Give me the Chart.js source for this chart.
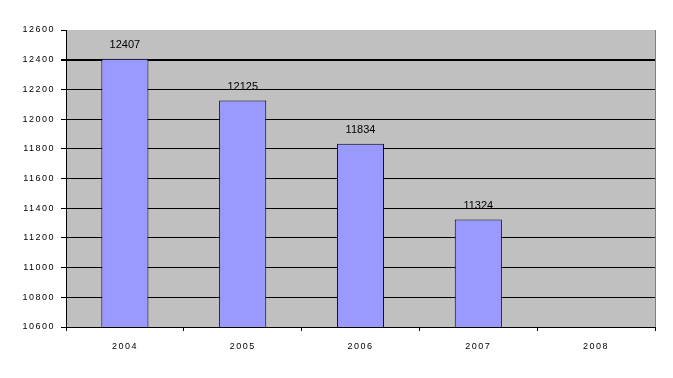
<!DOCTYPE html>
<html>
<head>
<meta charset="utf-8">
<script src="https://cdn.jsdelivr.net/npm/chart.js@4"></script>
<style>
  html, body { margin: 0; padding: 0; background: #fff; }
  #wrap { width: 673px; height: 378px; }
</style>
</head>
<body>
<div id="wrap"><canvas id="chartCanvasId" width="673" height="378"></canvas></div>
<script>
"use strict";

// chart values
const years  = ["2004", "2005", "2006", "2007", "2008"]
const counts = [12407, 12125, 11834, 11324, null]
const yMin   = 10600
const yMax   = 12600
const yStep  = 200

// grey plot area, right border, value labels over the bars
const plotDecor = {
    id: "plotDecor",
    beforeDraw(chart) {
        const a = chart.chartArea
        const ctx = chart.ctx
        ctx.save()
        ctx.fillStyle = "#C0C0C0"
        ctx.fillRect(a.left, a.top, a.right - a.left, a.bottom - a.top)
        ctx.restore()
        // the old axis font is wide and loose
        ctx.letterSpacing = "1.5px"
    },
    afterDraw(chart) {
        const a = chart.chartArea
        const ctx = chart.ctx
        ctx.letterSpacing = "0px"
        ctx.save()
        ctx.strokeStyle = "#808080"
        ctx.lineWidth = 1
        ctx.beginPath()
        ctx.moveTo(Math.round(a.right) + 0.5, a.top)
        ctx.lineTo(Math.round(a.right) + 0.5, a.bottom)
        ctx.stroke()

        ctx.fillStyle = "#000"
        ctx.font = "11px 'Liberation Sans', Arial, sans-serif"
        ctx.textAlign = "center"
        ctx.textBaseline = "bottom"
        const meta = chart.getDatasetMeta(0)
        meta.data.forEach((bar, i) => {
            if (counts[i] == null) return
            ctx.fillText(String(counts[i]), bar.x, bar.y - 8)
        })
        ctx.restore()
    }
}

const chartCanvas  = document.getElementById("chartCanvasId")
const chartContext = chartCanvas.getContext("2d")

const myChart = new Chart(chartContext, {
    type: "bar",
    data: {
        labels: years,
        datasets: [{
            data: counts,
            backgroundColor: "#9999FF",
            borderColor: "#000000",
            borderWidth: 1,
            categoryPercentage: 1.0,
            barPercentage: 0.4
        }]
    },
    options: {
        responsive: false,
        animation: false,
        layout: { padding: { top: 30, right: 18, left: 0, bottom: 0 } },
        plugins: {
            legend: { display: false },
            tooltip: { enabled: false }
        },
        scales: {
            x: {
                offset: true,
                grid: {
                    offset: true,
                    drawOnChartArea: false,
                    drawTicks: true,
                    tickLength: 4,
                    color: "#000"
                },
                border: { color: "#000", width: 1 },
                ticks: {
                    color: "#000",
                    padding: 10,
                    font: { family: "'Liberation Sans', Arial, sans-serif", size: 9 }
                },
                afterFit(scale) { scale.height = 51 }
            },
            y: {
                min: yMin,
                max: yMax,
                grid: {
                    color: ctx => ctx.tick && ctx.tick.value === yMax ? "rgba(0,0,0,0)" : "#000",
                    lineWidth: ctx => ctx.tick && ctx.tick.value === 12400 ? 2 : 1,
                    tickLength: 5,
                    tickColor: "#000"
                },
                border: { color: "#000", width: 1 },
                ticks: {
                    stepSize: yStep,
                    color: "#000",
                    padding: 6,
                    font: { family: "'Liberation Sans', Arial, sans-serif", size: 9 },
                    callback: v => String(v)
                },
                afterFit(scale) { scale.width = 66 }
            }
        }
    },
    plugins: [plotDecor]
})
</script>
</body>
</html>
